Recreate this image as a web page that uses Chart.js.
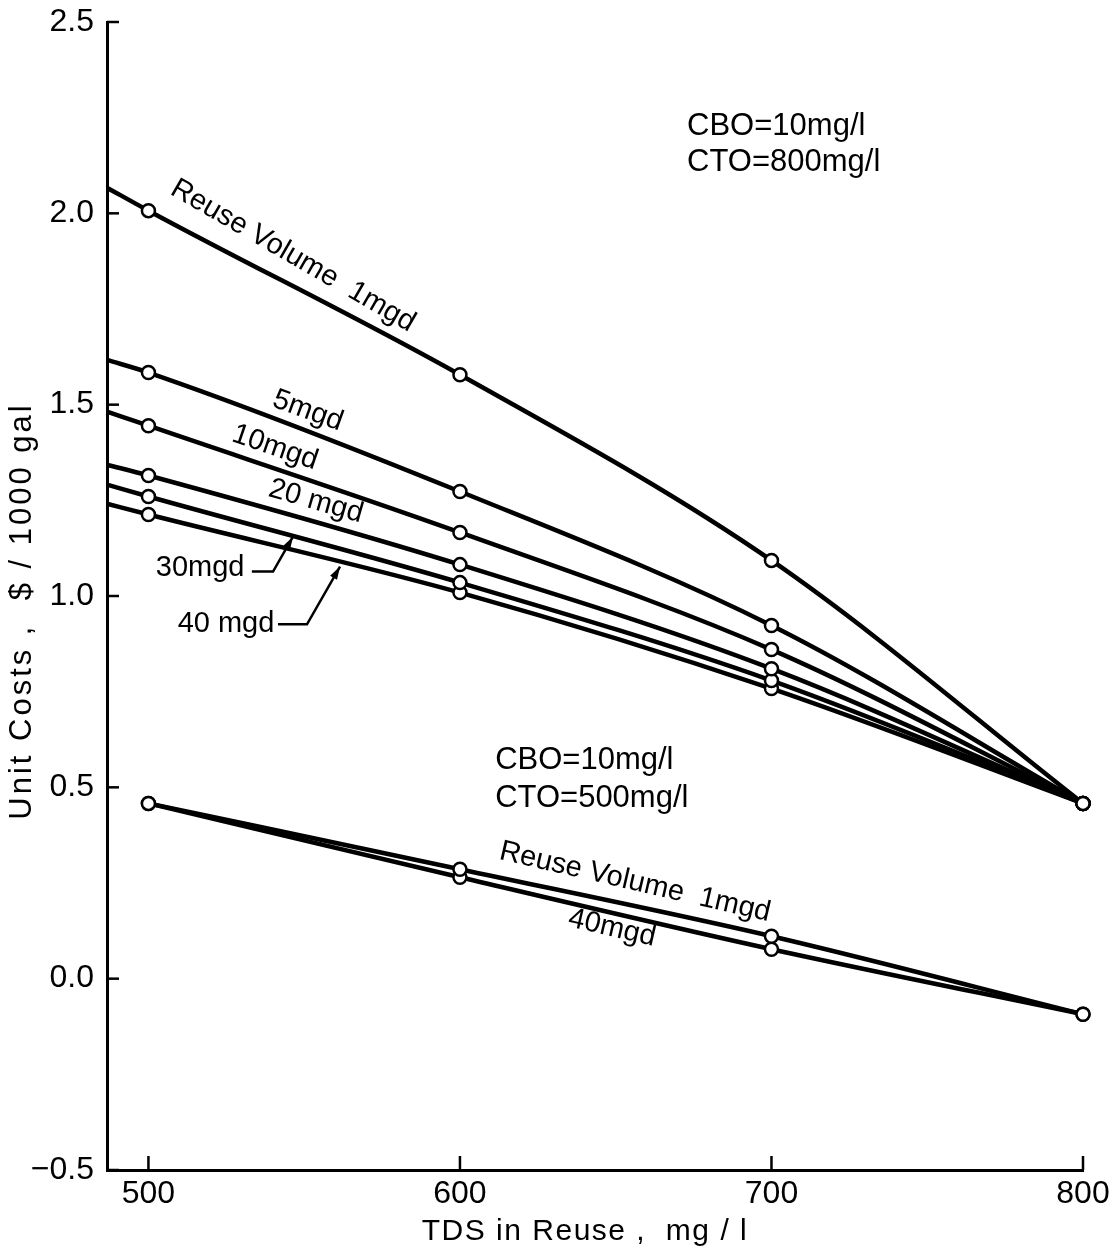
<!DOCTYPE html>
<html>
<head>
<meta charset="utf-8">
<script src="https://cdn.jsdelivr.net/npm/chart.js@4.4.0/dist/chart.umd.min.js"></script>
<style>
  html, body { margin: 0; padding: 0; background: #fff; }
  #wrap { width: 1120px; height: 1258px; }
</style>
</head>
<body>
<div id="wrap"><canvas id="reuseChart"></canvas></div>
<script>
// --- data ---
// TDS in reuse (mg/l) of the plotted points
const tds = [500, 600, 700, 800];
// the CTO=800 curves are drawn back to the left axis
const tdsAxisStart = 486.7;

// CTO = 800 mg/l : unit cost ($/1000 gal) at the left axis, then at 500/600/700/800
const cto800_1mgd  = [2.067, 2.007, 1.578, 1.093, 0.458];
const cto800_5mgd  = [1.617, 1.584, 1.273, 0.923, 0.458];
const cto800_10mgd = [1.482, 1.445, 1.166, 0.860, 0.458];
const cto800_20mgd = [1.343, 1.315, 1.082, 0.810, 0.458];
const cto800_30mgd = [1.291, 1.260, 1.035, 0.779, 0.458];
const cto800_40mgd = [1.241, 1.213, 1.009, 0.758, 0.458];

// CTO = 500 mg/l : unit cost at 500/600/700/800
const cto500_1mgd  = [0.458, 0.286, 0.111, -0.093];
const cto500_40mgd = [0.458, 0.265, 0.077, -0.093];

const xTicks = [500, 600, 700, 800];
const yTicks = [-0.5, 0.0, 0.5, 1.0, 1.5, 2.0, 2.5];

const xTitle = 'TDS in Reuse ,  mg / l';
const yTitle = 'Unit Costs ,  $ / 1000 gal';

// labels written on the figure (data units, angle in degrees)
const notes = [
  { text: 'Reuse Volume  1mgd', x: 546.4, y: 1.889, rot: 30 },
  { text: '5mgd',   x: 551.2, y: 1.484, rot: 20 },
  { text: '10mgd',  x: 540.6, y: 1.388, rot: 19 },
  { text: '20 mgd', x: 553.8, y: 1.247, rot: 16 },
  { text: '30mgd',  x: 516.6, y: 1.072, rot: 0 },
  { text: '40 mgd', x: 524.9, y: 0.926, rot: 0 },
  { text: 'Reuse Volume  1mgd', x: 656.2, y: 0.252, rot: 13 },
  { text: '40mgd',  x: 648.8, y: 0.132, rot: 13 },
  { text: 'CBO=10mg/l',  x: 672.9, y: 2.228, rot: 0, align: 'left' },
  { text: 'CTO=800mg/l', x: 672.9, y: 2.132, rot: 0, align: 'left' },
  { text: 'CBO=10mg/l',  x: 611.3, y: 0.571, rot: 0, align: 'left' },
  { text: 'CTO=500mg/l', x: 611.3, y: 0.471, rot: 0, align: 'left' }
];

// leader arrows from "30mgd" and "40 mgd" to their curves
const leaders = [
  [[533.2, 1.064], [540.0, 1.064], [546.4, 1.155]],
  [[541.6, 0.926], [550.9, 0.926], [561.5, 1.077]]
];

function upperSeries(vals) {
  const xs = [tdsAxisStart].concat(tds);
  return xs.map((x, i) => ({ x: x, y: vals[i] }));
}
function lowerSeries(vals) {
  return tds.map((x, i) => ({ x: x, y: vals[i] }));
}

function curve(label, data, withAxisStart) {
  return {
    label: label,
    data: data,
    borderColor: '#000',
    borderWidth: 4.5,
    cubicInterpolationMode: 'monotone',
    pointRadius: withAxisStart ? [0, 6.5, 6.5, 6.5, 6.5] : 6.5,
    pointBackgroundColor: '#fff',
    pointBorderColor: '#000',
    pointBorderWidth: 2.5,
    clip: false
  };
}

const FONT = '"Liberation Sans", Arial, sans-serif';

const annotate = {
  id: 'annotate',
  beforeDatasetsDraw(chart) {
    const { ctx, chartArea, scales: { x, y } } = chart;
    ctx.save();
    ctx.strokeStyle = '#000';
    ctx.lineWidth = 2.5;
    // inward tick marks
    xTicks.forEach(v => {
      const px = x.getPixelForValue(v);
      ctx.beginPath();
      ctx.moveTo(px, chartArea.bottom);
      ctx.lineTo(px, chartArea.bottom - 14);
      ctx.stroke();
    });
    yTicks.forEach(v => {
      const py = y.getPixelForValue(v);
      ctx.beginPath();
      ctx.moveTo(chartArea.left, py);
      ctx.lineTo(chartArea.left + 12, py);
      ctx.stroke();
    });

    // axis titles
    ctx.fillStyle = '#000';
    ctx.textAlign = 'center';
    ctx.textBaseline = 'middle';
    ctx.font = '30px ' + FONT;
    ctx.letterSpacing = '1.5px';
    ctx.fillText(xTitle, (chartArea.left + chartArea.right) / 2 - 10, 1232);
    ctx.save();
    ctx.font = '31px ' + FONT;
    ctx.letterSpacing = '3px';
    ctx.translate(22, (chartArea.top + chartArea.bottom) / 2 + 15);
    ctx.rotate(-Math.PI / 2);
    ctx.fillText(yTitle, 0, 0);
    ctx.restore();
    ctx.restore();
  },
  afterDatasetsDraw(chart) {
    const { ctx, scales: { x, y } } = chart;
    ctx.save();
    ctx.fillStyle = '#000';
    ctx.textBaseline = 'middle';
    notes.forEach(n => {
      ctx.save();
      ctx.font = (n.align ? '31px ' : '29px ') + FONT;
      ctx.translate(x.getPixelForValue(n.x), y.getPixelForValue(n.y));
      ctx.rotate(n.rot * Math.PI / 180);
      ctx.textAlign = n.align || 'center';
      ctx.fillText(n.text, 0, 0);
      ctx.restore();
    });

    ctx.strokeStyle = '#000';
    ctx.lineWidth = 2.5;
    leaders.forEach(pts => {
      const p = pts.map(q => [x.getPixelForValue(q[0]), y.getPixelForValue(q[1])]);
      ctx.beginPath();
      ctx.moveTo(p[0][0], p[0][1]);
      for (let i = 1; i < p.length; i++) ctx.lineTo(p[i][0], p[i][1]);
      ctx.stroke();
      // arrow head
      const a = p[p.length - 2], b = p[p.length - 1];
      const ang = Math.atan2(b[1] - a[1], b[0] - a[0]);
      ctx.beginPath();
      ctx.moveTo(b[0], b[1]);
      ctx.lineTo(b[0] - 13 * Math.cos(ang) + 4 * Math.sin(ang), b[1] - 13 * Math.sin(ang) - 4 * Math.cos(ang));
      ctx.lineTo(b[0] - 13 * Math.cos(ang) - 4 * Math.sin(ang), b[1] - 13 * Math.sin(ang) + 4 * Math.cos(ang));
      ctx.closePath();
      ctx.fill();
    });
    ctx.restore();
  }
};

const tickFont = { family: FONT, size: 32 };

new Chart(document.getElementById('reuseChart').getContext('2d'), {
  type: 'line',
  data: {
    datasets: [
      curve('CTO=800, 1mgd',  upperSeries(cto800_1mgd), true),
      curve('CTO=800, 5mgd',  upperSeries(cto800_5mgd), true),
      curve('CTO=800, 10mgd', upperSeries(cto800_10mgd), true),
      curve('CTO=800, 20mgd', upperSeries(cto800_20mgd), true),
      curve('CTO=800, 30mgd', upperSeries(cto800_30mgd), true),
      curve('CTO=800, 40mgd', upperSeries(cto800_40mgd), true),
      curve('CTO=500, 1mgd',  lowerSeries(cto500_1mgd), false),
      curve('CTO=500, 40mgd', lowerSeries(cto500_40mgd), false)
    ]
  },
  options: {
    responsive: true,
    maintainAspectRatio: false,
    animation: false,
    layout: { padding: { top: 22, right: 37, left: 0, bottom: 0 } },
    plugins: { legend: { display: false }, tooltip: { enabled: false } },
    scales: {
      x: {
        type: 'linear',
        min: tdsAxisStart,
        max: 800,
        afterBuildTicks: s => { s.ticks = xTicks.map(v => ({ value: v })); },
        afterFit: s => { s.height = 88; s.paddingLeft = 0; s.paddingRight = 0; },
        grid: { display: false, drawTicks: false, tickLength: 0 },
        border: { display: true, color: '#000', width: 3 },
        ticks: { color: '#000', font: tickFont, padding: 5, maxRotation: 0 },
        title: { display: false }
      },
      y: {
        min: -0.5,
        max: 2.5,
        afterBuildTicks: s => { s.ticks = yTicks.map(v => ({ value: v })); },
        afterFit: s => { s.width = 107; s.paddingTop = 0; s.paddingBottom = 0; },
        grid: { display: false, drawTicks: false, tickLength: 0 },
        border: { display: true, color: '#000', width: 3 },
        ticks: {
          color: '#000',
          font: tickFont,
          padding: 13,
          callback: v => (v < 0 ? '\u2212' : '') + Math.abs(v).toFixed(1)
        },
        title: { display: false }
      }
    }
  },
  plugins: [annotate]
});
</script>
</body>
</html>
